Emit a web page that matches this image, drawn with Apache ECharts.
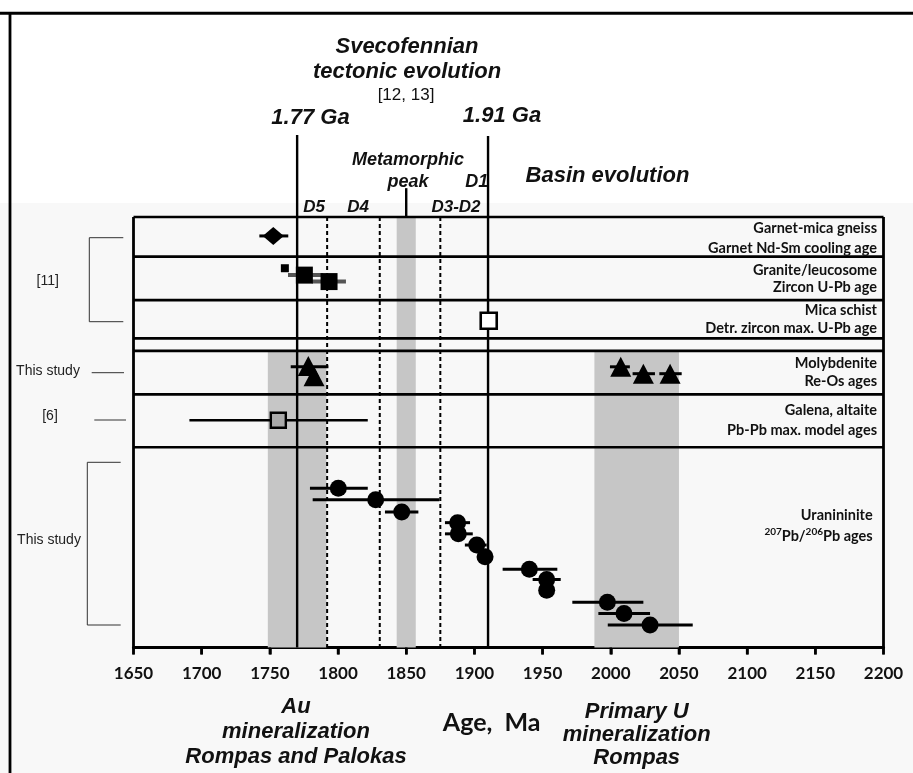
<!DOCTYPE html>
<html><head><meta charset="utf-8">
<script src="https://cdn.jsdelivr.net/npm/echarts@6/dist/echarts.min.js"></script>
<style>html,body{margin:0;padding:0;background:#fff}#c{width:913px;height:773px}</style>
</head><body><div id="c"></div><script>
// ---- axis ----
const ageMin = 1650, ageMax = 2200, ageStep = 50;
const tickAges = [1650, 1700, 1750, 1800, 1850, 1900, 1950, 2000, 2050, 2100, 2150, 2200];
// vertical level: 0 = top of the panel, 100 = x axis (negative = above panel)
const levelMin = -20, levelMax = 100;
const rowEdges = [0, 9.2, 19.3, 28.2, 31.1, 41.2, 53.5];
// shaded bands: [ageFrom, ageTo, levelTop, levelBottom]
const bands = [[1748.5, 1791.5, 31.1, 100], [1843, 1857, 0, 100], [1988, 2050, 31.1, 100]];
// solid reference lines: [age, levelTop, levelBottom]
const solidLines = [[1770, -19.05, 100], [1910, -18.8, 100], [1850, -6.7, 0]];
const dashedLines = [[1792, 0, 100], [1830.6, 0, 100], [1875, 0, 100]];

// ---- data: [age, level] and error bars [ageLow, ageHigh, level] ----
const garnetPts = [[1752.5, 4.4]];
const garnetBars = [[1742.3, 1763.5, 4.4]];
const graniteSmall = [[1761, 11.9]];
const granitePts = [[1775.3, 13.5], [1793.4, 15.0]];
const graniteBars = [[1763.3, 1789, 13.5], [1780.7, 1805.8, 15.0]];
const micaPts = [[1910.5, 24.1]];
const molyPts = [[1778.2, 34.6], [1782.4, 37.0], [2007.3, 34.8], [2023.9, 36.4], [2043.5, 36.4]];
const molyBars = [[1765.3, 1792.9, 34.8], [1780.5, 1784.5, 37.0], [1999.4, 2014, 34.8], [2016, 2032.4, 36.4], [2035.6, 2052, 36.4]];
const galenaPts = [[1756.2, 47.2]];
const galenaBars = [[1691, 1821.8, 47.2]];
const uranPts = [[1800.2, 63.0], [1827.6, 65.7], [1846.7, 68.5], [1887.7, 71.0], [1888.2, 73.6], [1901.7, 76.2], [1907.8, 78.9],
                 [1940.3, 81.8], [1953, 84.2], [1953, 86.7], [1997.5, 89.5], [2009.7, 92.1], [2028.8, 94.8]];
const uranBars = [[1779.4, 1821.8, 63.0], [1781.4, 1874.3, 65.7], [1834.4, 1858.9, 68.5], [1878.4, 1896.8, 71.0], [1878.4, 1898.8, 73.6],
                  [1893, 1909, 76.2], [1920.7, 1960.8, 81.8], [1942.7, 1963.3, 84.2], [1971.8, 2023.9, 89.5], [1990.9, 2028.8, 92.1], [1997.8, 2060.1, 94.8]];

// row labels (right side)
const rowLabels = [
  ['Garnet-mica gneiss', 'Garnet Nd-Sm cooling age'],
  ['Granite/leucosome', 'Zircon U-Pb age'],
  ['Mica schist', 'Detr. zircon max. U-Pb age'],
  ['Molybdenite', 'Re-Os ages'],
  ['Galena, altaite', 'Pb-Pb max. model ages']
];

function hseg(data, stroke, width, z) {
  return { type: 'custom', coordinateSystem: 'cartesian2d', data, z, silent: true, animation: false,
    encode: { x: [0, 1], y: 2 },
    renderItem(p, api) {
      const a = api.coord([api.value(0), api.value(2)]), b = api.coord([api.value(1), api.value(2)]);
      return { type: 'line', shape: { x1: a[0], y1: a[1], x2: b[0], y2: b[1] }, style: { stroke, lineWidth: width } };
    } };
}
function vseg(data, stroke, width, dash, z) {
  return { type: 'custom', coordinateSystem: 'cartesian2d', data, z, silent: true, animation: false,
    encode: { x: 0, y: [1, 2] },
    renderItem(p, api) {
      const a = api.coord([api.value(0), api.value(1)]), b = api.coord([api.value(0), api.value(2)]);
      return { type: 'line', shape: { x1: a[0], y1: a[1], x2: b[0], y2: b[1] }, style: { stroke, lineWidth: width, lineDash: dash || null } };
    } };
}
function pts(data, symbol, size, fill, border, bw) {
  return { type: 'scatter', data, symbol, symbolSize: size, z: 10, silent: true, animation: false,
    itemStyle: { color: fill, borderColor: border || fill, borderWidth: bw || 0, opacity: 1 } };
}

const series = [
  { type: 'custom', coordinateSystem: 'cartesian2d', data: bands, z: 1, silent: true, animation: false,
    encode: { x: [0, 1], y: [2, 3] },
    renderItem(p, api) {
      const a = api.coord([api.value(0), api.value(2)]), b = api.coord([api.value(1), api.value(3)]);
      return { type: 'rect', shape: { x: a[0], y: a[1], width: b[0] - a[0], height: b[1] - a[1] }, style: { fill: '#c6c6c6' } };
    } },
  hseg(rowEdges.map(e => [ageMin, ageMax, e]), '#000', 2.6, 3),
  vseg([[ageMin, 0, 100], [ageMax, 0, 100]], '#000', 2.8, null, 3),
  vseg(tickAges.map(a => [a, 100, 101.6]), '#000', 2.5, null, 3),
  vseg(dashedLines, '#000', 2, [4, 3], 3),
  vseg(solidLines, '#000', 2.4, null, 3),
  hseg(garnetBars, '#000', 3, 5),
  hseg(graniteBars, '#555', 4, 5),
  hseg(molyBars, '#000', 3, 5),
  hseg(galenaBars, '#000', 2.4, 5),
  hseg(uranBars, '#000', 3, 5),
  pts(garnetPts, 'diamond', [21, 18], '#000'),
  pts(graniteSmall, 'rect', 8, '#000'),
  pts(granitePts, 'rect', 17, '#000'),
  pts(micaPts, 'rect', 16, '#fff', '#000', 2.6),
  pts(molyPts, 'triangle', [21, 20], '#000'),
  pts(galenaPts, 'rect', 15, '#aaaaaa', '#000', 2.4),
  pts(uranPts, 'circle', 17, '#000')
];

const BI = (s) => 'italic bold ' + s + 'px "Liberation Sans", Arial, sans-serif';
const R = (s) => s + 'px "Liberation Sans", Arial, sans-serif';
const CAL = (s) => 'bold ' + s + 'px Lato, "Open Sans", sans-serif';
function T(text, x, y, font, align, fill) {
  return { type: 'text', x, y, z: 100, silent: true,
    style: { text, font, textAlign: align || 'center', textVerticalAlign: 'middle', verticalAlign: 'middle', fill: fill || '#111' } };
}
function L(x1, y1, x2, y2, w, c) {
  return { type: 'line', z: 50, silent: true, shape: { x1, y1, x2, y2 }, style: { stroke: c || '#000', lineWidth: w } };
}

const rowLabelY = [[228.3, 248.3], [270, 287.3], [310, 328.3], [363.3, 381.7], [410, 430]];
const graphic = [
  { type: 'rect', z: -100, silent: true, shape: { x: 0, y: 0, width: 913, height: 203 }, style: { fill: '#ffffff' } },
  L(0, 13.3, 913, 13.3, 3), L(10, 12, 10, 773, 2.8),
  T('Svecofennian', 407, 47, BI(22)), T('tectonic evolution', 407, 72, BI(22)), T('[12, 13]', 406, 95, R(17)),
  T('1.77 Ga', 310.5, 118, BI(22)), T('1.91 Ga', 502, 115.5, BI(22)),
  T('Metamorphic', 408, 160, BI(18)), T('peak', 408, 181.7, BI(18)), T('D1', 476.7, 181.7, BI(18)),
  T('Basin evolution', 607.5, 175.7, BI(22)),
  T('D5', 314, 207, BI(17)), T('D4', 358, 207, BI(17)), T('D3-D2', 456, 207, BI(17)),
  T('[11]', 47.7, 281, R(14), 'center', '#222'), T('This study', 48, 371, R(14), 'center', '#222'),
  T('[6]', 50, 416, R(14), 'center', '#222'), T('This study', 49, 540, R(14), 'center', '#222'),
  L(89.3, 237.7, 89.3, 321.7, 1, '#333'), L(89.3, 237.7, 123.3, 237.7, 1, '#333'), L(89.3, 321.7, 123.3, 321.7, 1, '#333'),
  L(91.7, 372.7, 124, 372.7, 1, '#333'), L(94.3, 420, 126, 420, 1, '#333'),
  L(87.3, 462.3, 87.3, 625, 1, '#333'), L(87.3, 462.3, 120.7, 462.3, 1, '#333'), L(87.3, 625, 120.7, 625, 1, '#333'),
  T('Au', 296, 707.3, BI(22)), T('mineralization', 296, 731.7, BI(22)), T('Rompas and Palokas', 296, 756.7, BI(22)),
  T('Primary U', 636.7, 711.7, BI(22)), T('mineralization', 636.7, 735, BI(22)), T('Rompas', 636.7, 758.3, BI(22)),
  T('Age,  Ma', 491.7, 723.3, CAL(25)),
  T('Uranininite', 872.7, 515, CAL(14.5), 'right', '#111'),
  { type: 'text', x: 872.7, y: 535, z: 100, silent: true,
    style: { text: '{s|207}{b|Pb/}{s|206}{b|Pb ages}', textAlign: 'right', textVerticalAlign: 'middle', verticalAlign: 'middle', fill: '#111',
      rich: { b: { font: CAL(14.5), fill: '#111', lineHeight: 17, verticalAlign: 'bottom' },
              s: { font: CAL(10), fill: '#111', lineHeight: 17, verticalAlign: 'top' } } } }
];
rowLabels.forEach((pair, i) => {
  graphic.push(T(pair[0], 877, rowLabelY[i][0], CAL(14.5), 'right', '#111'));
  graphic.push(T(pair[1], 877, rowLabelY[i][1], CAL(14.5), 'right', '#111'));
});

const chart = echarts.init(document.getElementById('c'), null, { renderer: 'canvas' });
chart.setOption({
  backgroundColor: '#f8f8f8',
  animation: false,
  grid: { left: 133.5, right: 29.5, top: 130.9, bottom: 125.5 },
  xAxis: { type: 'value', min: ageMin, max: ageMax, interval: ageStep, position: 'bottom',
    axisLine: { show: true, onZero: false, lineStyle: { color: '#000', width: 3 } },
    axisTick: { show: true, length: 7, lineStyle: { color: '#000', width: 2.5 } },
    axisLabel: { show: true, fontFamily: 'Lato', fontWeight: 'bold', fontSize: 17, color: '#111', margin: 18,
      formatter: (v) => String(v) },
    splitLine: { show: false } },
  yAxis: { type: 'value', min: levelMin, max: levelMax, inverse: true, show: false, splitLine: { show: false } },
  graphic,
  series
});
</script></body></html>
